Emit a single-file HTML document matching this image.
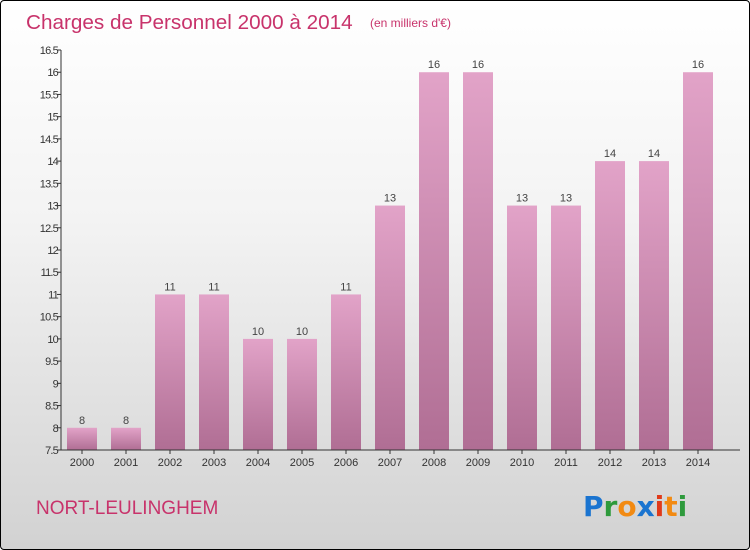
<!DOCTYPE html>
<html><head><meta charset="utf-8"><style>
html,body{margin:0;padding:0;}
body{width:750px;height:550px;overflow:hidden;font-family:"Liberation Sans",sans-serif;}
#frame{position:absolute;left:0;top:0;width:748px;height:548px;border:1px solid #000;border-radius:4px;background:linear-gradient(#ffffff 0%,#f3f3f3 40%,#d2d2d2 100%);}
</style></head><body>
<div id="frame"></div>
<svg id="chart" width="750" height="550" style="position:absolute;left:0;top:0">
<defs><linearGradient id="bg" x1="0" y1="0" x2="0" y2="1"><stop offset="0" stop-color="#e2a3c8"/><stop offset="1" stop-color="#b06e94"/></linearGradient></defs>
<text x="26" y="29" font-size="20.7" fill="#c8336b">Charges de Personnel 2000 à 2014</text>
<text x="370" y="27" font-size="12" fill="#c8336b">(en milliers d'€)</text>
<text x="36" y="514" font-size="19" fill="#c8336b">NORT-LEULINGHEM</text>
<g font-size="28" font-weight="bold" font-family="'DejaVu Sans',sans-serif">
<text x="583" y="516"><tspan fill="#1a74d0">P</tspan><tspan fill="#2e9a3c">r</tspan><tspan fill="#f28a12">o</tspan><tspan fill="#1a74d0">x</tspan><tspan fill="#e03a1a">i</tspan><tspan fill="#f28a12">t</tspan><tspan fill="#2e9a3c">i</tspan></text></g>
<g id="plot"></g>
</svg>
<script>
const categories=["2000","2001","2002","2003","2004","2005","2006","2007","2008","2009","2010","2011","2012","2013","2014"];
const values=[8,8,11,11,10,10,11,13,16,16,13,13,14,14,16];
const ticks=[7.5,8,8.5,9,9.5,10,10.5,11,11.5,12,12.5,13,13.5,14,14.5,15,15.5,16,16.5];
const NS="http://www.w3.org/2000/svg";
const g=document.getElementById('plot');
const yMin=7.5,yMax=16.5,plotTop=50,plotBot=450,axisX=61;
function y(v){return plotBot-(v-yMin)/(yMax-yMin)*(plotBot-plotTop);}
function x(i){return 82+i*44;}
function mk(t,a){const e=document.createElementNS(NS,t);for(const k in a)e.setAttribute(k,a[k]);g.appendChild(e);return e;}
values.forEach((v,i)=>{
 const r=mk('rect',{x:x(i)-15,y:y(v),width:30,height:plotBot-y(v),fill:'url(#bg)'});
 
 
 const t=mk('text',{x:x(i),y:y(v)-4,'text-anchor':'middle','font-size':'11',fill:'#444'});
 t.textContent=v;
 
 
 const c=mk('text',{x:x(i),y:466,'text-anchor':'middle','font-size':'11',fill:'#333'});
 c.textContent=categories[i];
 
 
 const tm=mk('line',{x1:x(i),x2:x(i),y1:plotBot,y2:plotBot+4,stroke:'#333'});
 
 
});
ticks.forEach(v=>{
 const l=mk('line',{x1:axisX-4,x2:axisX,y1:y(v),y2:y(v),stroke:'#333'});
 
 
 const t=mk('text',{x:axisX-3,y:y(v)+4,'text-anchor':'end','font-size':'11',fill:'#333','letter-spacing':'-0.8'});
 t.textContent=v;
 
 
});
const ya=mk('line',{x1:axisX,x2:axisX,y1:plotTop,y2:plotBot,stroke:'#333'});


const xa=mk('line',{x1:axisX,x2:740,y1:plotBot,y2:plotBot,stroke:'#333'});


</script>
</body></html>
